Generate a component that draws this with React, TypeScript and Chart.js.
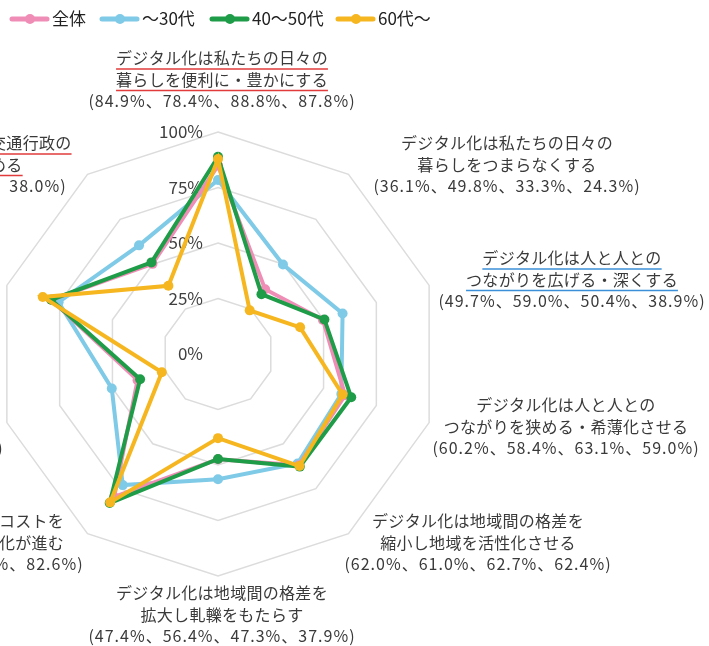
import React, { useEffect, useRef } from "react";
import { Chart, registerables } from "chart.js";

Chart.register(...registerables);

// ---------- data ----------
const categories = [
  "暮らしを便利に・豊かにする",
  "暮らしをつまらなくする",
  "つながりを広げる・深くする",
  "つながりを狭める・希薄化させる",
  "格差を縮小し地域を活性化させる",
  "格差を拡大し軋轢をもたらす",
  "コストを削減し効率化が進む",
  "非効率化が進む",
  "行政サービスの利便性を向上させる",
  "行政の効率性・利便性を高める",
];

const axisText: string[][] = [
  ["デジタル化は私たちの日々の", "暮らしを便利に・豊かにする"],
  ["デジタル化は私たちの日々の", "暮らしをつまらなくする"],
  ["デジタル化は人と人との", "つながりを広げる・深くする"],
  ["デジタル化は人と人との", "つながりを狭める・希薄化させる"],
  ["デジタル化は地域間の格差を", "縮小し地域を活性化させる"],
  ["デジタル化は地域間の格差を", "拡大し軋轢をもたらす"],
  ["デジタル化は手続きのコストを", "削減し社会全体の効率化が進む"],
  ["デジタル化は新たな手間やコストを", "生み、社会の非効率化が進む"],
  ["デジタル化は行政サービスの", "利便性を向上させる"],
  ["デジタル化は医療・教育・交通行政の", "効率性・利便性を高める"],
];

const seriesNames = ["全体", "～30代", "40～50代", "60代～"];
const allAges = [84.9, 36.1, 49.7, 60.2, 62.0, 47.4, 79.6, 38.1, 79.0, 50.2];
const under30 = [78.4, 49.8, 59.0, 58.4, 61.0, 56.4, 73.0, 50.3, 75.5, 60.5];
const age40to50 = [88.8, 33.3, 50.4, 63.1, 62.7, 47.3, 83.0, 36.9, 79.0, 51.0];
const over60 = [87.8, 24.3, 38.9, 59.0, 62.4, 37.9, 82.6, 26.6, 83.0, 38.0];
const tickValues = [0, 25, 50, 75, 100];

// ---------- style ----------
const colors = ["#F08DB6", "#7FCAE7", "#1F9C48", "#F5B620"];
const drawOrder = [2, 3, 1, 0];
const underlineColor: (string | null)[] = ["#E23B3B", null, "#3B8FD9", null, null, null, null, null, null, "#E23B3B"];
// label block offsets (center x, first line middle y) relative to chart center
const labelOffsets = [
  [4, -296], [289, -211], [354, -96], [348, 51], [260, 167],
  [4, 239], [-268, 167], [-348, 51], [-350, -96], [-285, -211],
];
const LINE_H = 21.5;
const FONT = '"Noto Sans CJK JP", "Noto Sans", sans-serif';

const OFF = 300;
const W = 709 + OFF;
const H = 646;
const CX = 218;
const CY = 354;
const R = 222;

const fmt = (v: number) => v.toFixed(1) + "%";

const overlayPlugin = {
  id: "overlay",
  beforeDatasetsDraw(chart: any) {
    const scale = chart.scales.r;
    const ctx = chart.ctx;
    const cx = scale.xCenter;
    const cy = scale.yCenter;
    ctx.save();
    ctx.font = `17px ${FONT}`;
    ctx.fillStyle = "#404040";
    ctx.textAlign = "right";
    ctx.textBaseline = "middle";
    tickValues.forEach((v) => {
      const d = scale.getDistanceFromCenterForValue(v);
      ctx.fillText(v + "%", cx - 15, cy - d);
    });
    ctx.restore();
  },
  afterDraw(chart: any) {
    const scale = chart.scales.r;
    const ctx = chart.ctx;
    const cx = scale.xCenter;
    const cy = scale.yCenter;
    ctx.save();
    ctx.textAlign = "center";
    ctx.textBaseline = "middle";
    ctx.fillStyle = "#3a3a3a";
    categories.forEach((_, i) => {
      const [dx, dy] = labelOffsets[i];
      const x = cx + dx;
      const lines = [
        ...axisText[i],
        `(${fmt(allAges[i])}、${fmt(under30[i])}、${fmt(age40to50[i])}、${fmt(over60[i])})`,
      ];
      lines.forEach((t, k) => {
        const y = cy + dy + k * LINE_H;
        ctx.font = `16px ${FONT}`;
        (ctx as any).letterSpacing = k === 2 ? "1px" : "0.3px";
        ctx.fillStyle = "#3a3a3a";
        ctx.fillText(t, x, y);
        const uc = underlineColor[i];
        if (uc && k < 2) {
          const w = ctx.measureText(t).width;
          ctx.strokeStyle = uc;
          ctx.lineWidth = 1.5;
          ctx.beginPath();
          ctx.moveTo(x - w / 2, y + 11);
          ctx.lineTo(x + w / 2, y + 11);
          ctx.stroke();
        }
      });
    });
    (ctx as any).letterSpacing = "0px";

    // legend
    const legendX = [12, 102, 212, 338];
    const ly = 19;
    ctx.textAlign = "left";
    ctx.font = `17px ${FONT}`;
    seriesNames.forEach((name, i) => {
      const x0 = legendX[i] + OFF;
      ctx.strokeStyle = colors[i];
      ctx.fillStyle = colors[i];
      ctx.lineWidth = 5;
      ctx.lineCap = "round";
      ctx.beginPath();
      ctx.moveTo(x0, ly);
      ctx.lineTo(x0 + 35, ly);
      ctx.stroke();
      ctx.beginPath();
      ctx.arc(x0 + 18, ly, 5, 0, Math.PI * 2);
      ctx.fill();
      ctx.fillStyle = "#222";
      ctx.fillText(name, x0 + 40, ly);
    });
    ctx.restore();
  },
};

export default function App() {
  const ref = useRef<HTMLCanvasElement | null>(null);
  useEffect(() => {
    if (!ref.current) return;
    const series = [allAges, under30, age40to50, over60];
    const chart = new Chart(ref.current, {
      type: "radar",
      data: {
        labels: categories,
        datasets: series.map((d, i) => ({
          label: seriesNames[i],
          data: d,
          borderColor: colors[i],
          backgroundColor: colors[i],
          pointBackgroundColor: colors[i],
          pointBorderColor: colors[i],
          borderWidth: 4,
          pointRadius: 5,
          pointBorderWidth: 0,
          fill: false,
          order: drawOrder[i],
        })),
      },
      options: {
        responsive: false,
        animation: false,
        devicePixelRatio: 1,
        layout: {
          padding: {
            left: OFF + CX - R,
            right: W - (OFF + CX + R),
            top: CY - R,
            bottom: H - (CY + R),
          },
        },
        plugins: { legend: { display: false }, tooltip: { enabled: false } },
        elements: { line: { tension: 0 } },
        scales: {
          r: {
            min: 0,
            max: 100,
            ticks: { display: false, stepSize: 25 },
            pointLabels: { display: false },
            angleLines: { display: false },
            grid: { color: "#dcdcdc", lineWidth: 1.5 },
          },
        },
      },
      plugins: [overlayPlugin],
    } as any);
    return () => chart.destroy();
  }, []);
  return (
    <div
      style={{
        position: "fixed",
        left: 0,
        top: 0,
        width: 709,
        height: 646,
        overflow: "hidden",
        background: "#fff",
      }}
    >
      <canvas
        ref={ref}
        width={W}
        height={H}
        style={{ position: "absolute", left: -OFF, top: 0, width: W, height: H }}
      />
    </div>
  );
}
